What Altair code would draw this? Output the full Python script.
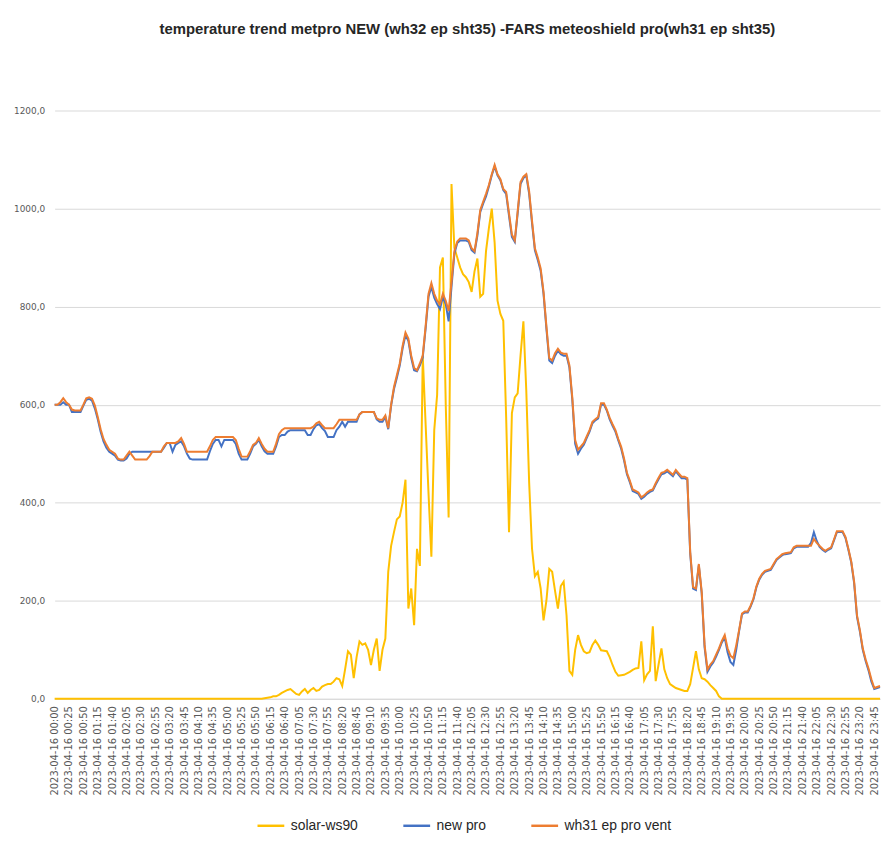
import altair as alt
import pandas as pd

TITLE = "temperature trend metpro NEW (wh32 ep sht35) -FARS meteoshield pro(wh31 ep sht35)"
SERIES = ["solar-ws90", "new pro", "wh31 ep pro vent"]
COLORS = ["#FFC000", "#4472C4", "#ED7D31"]

times = [f"2023-04-16 {h:02d}:{m:02d}" for h in range(24) for m in range(0, 60, 5)]
tick_labels = times[::5]
y_ticks = [0, 200, 400, 600, 800, 1000, 1200]

solar = (
    [0] * 72
    + [0, 1, 2, 3, 5, 5, 8, 12, 15, 18, 20, 15]
    + [10, 8, 15, 20, 12, 18, 22, 16, 18, 25, 28, 30]
    + [30, 35, 42, 40, 26, 60, 97, 90, 42, 85, 117, 110]
    + [113, 100, 69, 100, 123, 57, 100, 123, 259, 312, 340, 366]
    + [372, 400, 447, 184, 225, 150, 306, 271, 700, 560, 420, 290]
    + [548, 620, 880, 900, 600, 370, 1050, 920, 900, 880, 866, 860]
    + [850, 830, 872, 898, 820, 826, 913, 960, 1000, 930, 812, 785]
    + [771, 575, 340, 583, 615, 623, 700, 770, 629, 441, 306, 250]
    + [259, 225, 160, 200, 265, 259, 220, 184, 230, 239, 170, 57]
    + [49, 100, 130, 110, 97, 93, 95, 110, 119, 110, 99, 98]
    + [97, 85, 69, 55, 47, 48, 49, 52, 55, 59, 62, 63]
    + [117, 38, 50, 57, 148, 36, 70, 103, 60, 42, 30, 26]
    + [22, 20, 18, 16, 16, 30, 63, 97, 60, 42, 40, 35]
    + [28, 22, 16, 5, 0, 0, 0, 0, 0, 0, 0, 0]
    + [0] * 48
)

new_pro = (
    [600, 600, 600, 605, 600, 600, 585, 585, 585, 585, 598, 610]
    + [612, 608, 592, 570, 545, 525, 512, 504, 500, 496, 488, 486]
    + [486, 490, 500, 504, 504, 504, 504, 504, 504, 504, 504, 504]
    + [504, 504, 512, 522, 522, 504, 518, 522, 525, 515, 500, 490]
    + [488, 488, 488, 488, 488, 488, 505, 520, 528, 528, 515, 528]
    + [528, 528, 528, 520, 500, 488, 488, 488, 500, 515, 520, 528]
    + [515, 505, 500, 500, 500, 515, 534, 538, 538, 545, 548, 548]
    + [548, 548, 548, 548, 538, 538, 550, 558, 560, 552, 546, 534]
    + [534, 534, 548, 555, 565, 555, 565, 565, 565, 565, 580, 585]
    + [585, 585, 585, 585, 570, 565, 565, 575, 550, 598, 632, 655]
    + [680, 715, 742, 730, 695, 670, 668, 680, 696, 755, 820, 840]
    + [818, 805, 795, 820, 805, 770, 840, 908, 930, 935, 935, 935]
    + [932, 915, 910, 945, 993, 1010, 1025, 1045, 1068, 1086, 1068, 1058]
    + [1038, 1030, 985, 942, 932, 990, 1050, 1062, 1068, 1030, 970, 915]
    + [895, 873, 826, 755, 690, 685, 700, 710, 703, 700, 700, 676]
    + [610, 520, 500, 510, 518, 532, 545, 562, 568, 572, 600, 600]
    + [588, 570, 557, 545, 527, 510, 486, 458, 442, 424, 421, 418]
    + [408, 412, 418, 422, 425, 437, 448, 458, 460, 464, 459, 454]
    + [464, 457, 450, 450, 447, 296, 225, 222, 272, 215, 105, 55]
    + [66, 74, 86, 100, 115, 125, 95, 75, 69, 100, 138, 172]
    + [176, 176, 188, 203, 227, 243, 253, 259, 261, 263, 273, 283]
    + [288, 293, 295, 296, 297, 307, 310, 310, 310, 310, 310, 318]
    + [340, 322, 310, 304, 300, 304, 307, 323, 340, 340, 340, 328]
    + [304, 278, 236, 167, 137, 100, 77, 58, 35, 20, 22, 24]
)

wh31 = (
    [600, 600, 605, 613, 605, 600, 590, 588, 588, 588, 600, 613]
    + [615, 612, 598, 575, 550, 530, 518, 508, 504, 500, 490, 488]
    + [488, 496, 504, 496, 488, 488, 488, 488, 488, 495, 504, 504]
    + [504, 504, 515, 522, 522, 522, 522, 525, 532, 520, 504, 504]
    + [504, 504, 504, 504, 504, 504, 515, 528, 534, 534, 534, 534]
    + [534, 534, 534, 528, 510, 494, 494, 494, 505, 518, 522, 532]
    + [520, 510, 504, 504, 504, 520, 540, 548, 552, 552, 552, 552]
    + [552, 552, 552, 552, 552, 552, 555, 562, 565, 558, 552, 552]
    + [552, 552, 560, 569, 569, 569, 569, 569, 569, 569, 580, 585]
    + [585, 585, 585, 585, 572, 569, 569, 578, 552, 600, 636, 660]
    + [684, 720, 747, 735, 700, 675, 670, 684, 700, 760, 826, 848]
    + [826, 812, 805, 826, 812, 791, 850, 913, 933, 939, 939, 939]
    + [935, 919, 913, 950, 997, 1014, 1030, 1048, 1070, 1089, 1070, 1060]
    + [1040, 1034, 990, 947, 935, 994, 1054, 1065, 1070, 1035, 975, 919]
    + [900, 878, 830, 760, 695, 690, 705, 714, 706, 704, 704, 680]
    + [615, 528, 508, 515, 522, 535, 548, 565, 570, 575, 603, 603]
    + [590, 573, 560, 548, 530, 514, 490, 461, 445, 427, 424, 421]
    + [411, 415, 421, 425, 427, 440, 451, 461, 463, 467, 462, 457]
    + [467, 460, 453, 453, 450, 300, 228, 225, 275, 218, 110, 60]
    + [70, 77, 90, 103, 118, 130, 103, 88, 83, 109, 140, 174]
    + [178, 178, 190, 205, 229, 245, 255, 261, 263, 265, 275, 285]
    + [290, 295, 297, 298, 299, 309, 312, 312, 312, 312, 312, 312]
    + [326, 318, 312, 306, 302, 306, 309, 325, 342, 342, 342, 330]
    + [306, 280, 239, 170, 140, 103, 80, 62, 40, 22, 24, 26]
)

frames = []
for name, vals in zip(SERIES, [solar, new_pro, wh31]):
    frames.append(pd.DataFrame({"time": times, "series": name, "value": vals}))
df = pd.concat(frames, ignore_index=True)

color = alt.Color(
    "series:N",
    scale=alt.Scale(domain=SERIES, range=COLORS),
    legend=alt.Legend(
        title=None,
        orient="none",
        direction="horizontal",
        legendX=203,
        legendY=706,
        symbolType="stroke",
        symbolSize=729,
        symbolStrokeWidth=2.5,
        labelFont="Liberation Sans",
        labelFontSize=14,
        labelColor="#262626",
        labelOffset=5,
        columnPadding=40,
        padding=0,
    ),
)

x = alt.X(
    "time:O",
    sort=times,
    scale=alt.Scale(type="point", padding=0),
    axis=alt.Axis(
        title=None,
        values=tick_labels,
        labelAngle=-90,
        labelAlign="right",
        labelBaseline="middle",
        labelFont="DejaVu Sans",
        labelFontSize=10,
        labelColor="#595959",
        labelPadding=7,
        ticks=False,
        domainColor="#d9d9d9",
        grid=False,
        labelOverlap=False,
        labelLimit=200,
    ),
)

y = alt.Y(
    "value:Q",
    scale=alt.Scale(domain=[0, 1200], nice=False),
    axis=alt.Axis(
        title=None,
        values=y_ticks,
        labelExpr="replace(format(datum.value, '.1f'), '.', ',')",
        labelFont="DejaVu Sans",
        labelFontSize=9,
        labelColor="#595959",
        labelPadding=10,
        ticks=False,
        domain=False,
        gridColor="#d9d9d9",
        gridWidth=1,
    ),
)

layers = []
for name in SERIES:
    layers.append(
        alt.Chart(df)
        .transform_filter(alt.datum.series == name)
        .mark_line(strokeWidth=2)
        .encode(x=x, y=y, color=color)
    )

chart = (
    alt.layer(*layers)
    .properties(
        width=832,
        height=593,
        title=alt.TitleParams(
            TITLE,
            font="Liberation Sans",
            fontSize=15,
            fontWeight="bold",
            color="#262626",
            offset=70,
            anchor="middle",
        ),
        autosize=alt.AutoSizeParams(type="none"),
        padding={"left": 47, "top": 100, "right": 2, "bottom": 140},
        background="white",
    )
    .configure_view(stroke=None)
)

chart.save("out.html", embed_options={"renderer": "svg", "actions": False})
